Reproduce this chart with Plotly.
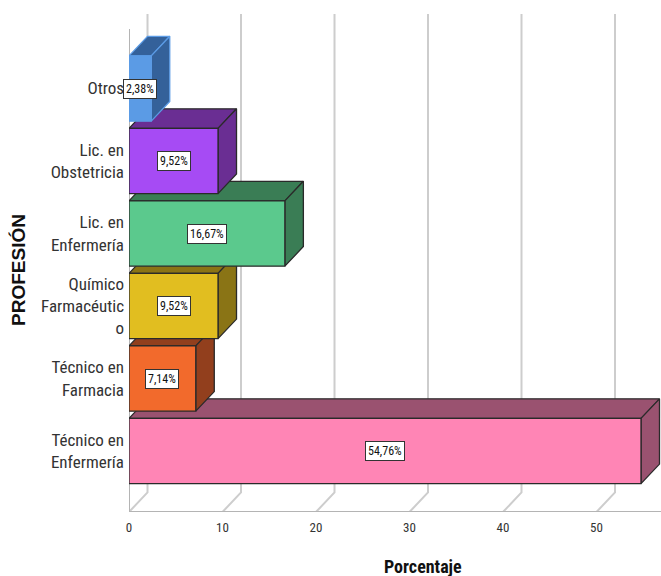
import plotly.graph_objects as go

# Professions, bottom to top on the category axis
categories = [
    "Técnico en<br>Enfermería",
    "Técnico en<br>Farmacia",
    "Químico<br>Farmacéutic<br>o",
    "Lic. en<br>Enfermería",
    "Lic. en<br>Obstetricia",
    "Otros",
]
percentages = [54.76, 7.14, 9.52, 16.67, 9.52, 2.38]
x_ticks = [0, 10, 20, 30, 40, 50]

front_colors = ["#FF85B5", "#F26A2C", "#E1BE20", "#5BC98D", "#A64BF4", "#5B9BE5"]
shade_colors = ["#9A5270", "#923F1D", "#8A7415", "#3A7D55", "#6A2E93", "#34619A"]
edge_colors = ["#2a2a2a", "#2a2a2a", "#2a2a2a", "#2a2a2a", "#2a2a2a", "#5B9BE5"]

# geometry of the pseudo-3D box (in data units)
X_MAX = 56.9
Y_MIN, Y_MAX = -0.841, 6.221
HALF = 0.45          # half bar thickness
DX, DY = 1.98, 0.27  # depth offset of the back plane
GRID_TOP = 6.028
WALL_TOP = 5.821

LABEL_FONT = "Liberation Sans Narrow, Arial Narrow, Roboto Condensed, Liberation Sans, sans-serif"

fig = go.Figure()

# back-wall gridlines with their floor diagonals
floor_back = Y_MIN + DY
for v in x_ticks:
    fig.add_trace(go.Scatter(
        x=[v + DX, v + DX, v], y=[GRID_TOP, floor_back, Y_MIN],
        mode="lines", line=dict(color="#cdcdcd", width=2),
        hoverinfo="skip", showlegend=False,
    ))

# left wall front edge and floor front edge
fig.add_trace(go.Scatter(
    x=[0, 0, X_MAX], y=[WALL_TOP, Y_MIN, Y_MIN],
    mode="lines", line=dict(color="#b4b4b4", width=2),
    hoverinfo="skip", showlegend=False,
))

# boxes, drawn bottom to top so upper fronts cover lower tops
for i, v in enumerate(percentages):
    lo, hi = i - HALF, i + HALF
    edge = dict(color=edge_colors[i], width=1.3)
    faces = [
        ([0, v, v + DX, DX, 0], [hi, hi, hi + DY, hi + DY, hi], shade_colors[i]),
        ([v, v + DX, v + DX, v, v], [lo, lo + DY, hi + DY, hi, lo], shade_colors[i]),
        ([0, v, v, 0, 0], [lo, lo, hi, hi, lo], front_colors[i]),
    ]
    for fx, fy, col in faces:
        fig.add_trace(go.Scatter(
            x=fx, y=fy, fill="toself", fillcolor=col, mode="lines",
            line=edge, hoverinfo="skip", showlegend=False,
        ))
    fig.add_annotation(
        x=v / 2, y=i, text=f"{v:.2f}%".replace(".", ","), showarrow=False,
        bgcolor="white", bordercolor="#333333", borderwidth=1, borderpad=2,
        font=dict(family=LABEL_FONT, size=12, color="#111111"),
    )

fig.add_annotation(
    xref="paper", yref="paper", x=0.5526, y=-0.107, text="<b>Porcentaje</b>",
    showarrow=False, yanchor="middle",
    font=dict(family=LABEL_FONT, size=18, color="#111111"),
)
fig.add_annotation(
    xref="paper", yref="paper", x=-0.2068, y=0.4727, text="<b>PROFESIÓN</b>",
    textangle=-90, showarrow=False, xanchor="center", yanchor="middle",
    font=dict(family="Liberation Sans, Arial, sans-serif", size=19, color="#111111"),
)

fig.update_xaxes(
    range=[0, X_MAX], tickvals=x_ticks, ticktext=[str(t) for t in x_ticks],
    showgrid=False, zeroline=False, showline=False,
    ticks="outside", ticklen=3, tickcolor="rgba(0,0,0,0)",
    tickfont=dict(family=LABEL_FONT, size=13, color="#333333"),
    fixedrange=True,
)
fig.update_yaxes(
    range=[Y_MIN, Y_MAX], tickvals=list(range(len(categories))), ticktext=categories,
    showgrid=False, zeroline=False, showline=False, ticks="",
    ticklabelstandoff=4,
    tickfont=dict(family=LABEL_FONT, size=17, color="#333333"),
    fixedrange=True,
)
fig.update_layout(
    width=661, height=576,
    margin=dict(l=129, r=0, t=0, b=64),
    plot_bgcolor="white", paper_bgcolor="white",
    showlegend=False,
)

fig.write_html("out.html")
